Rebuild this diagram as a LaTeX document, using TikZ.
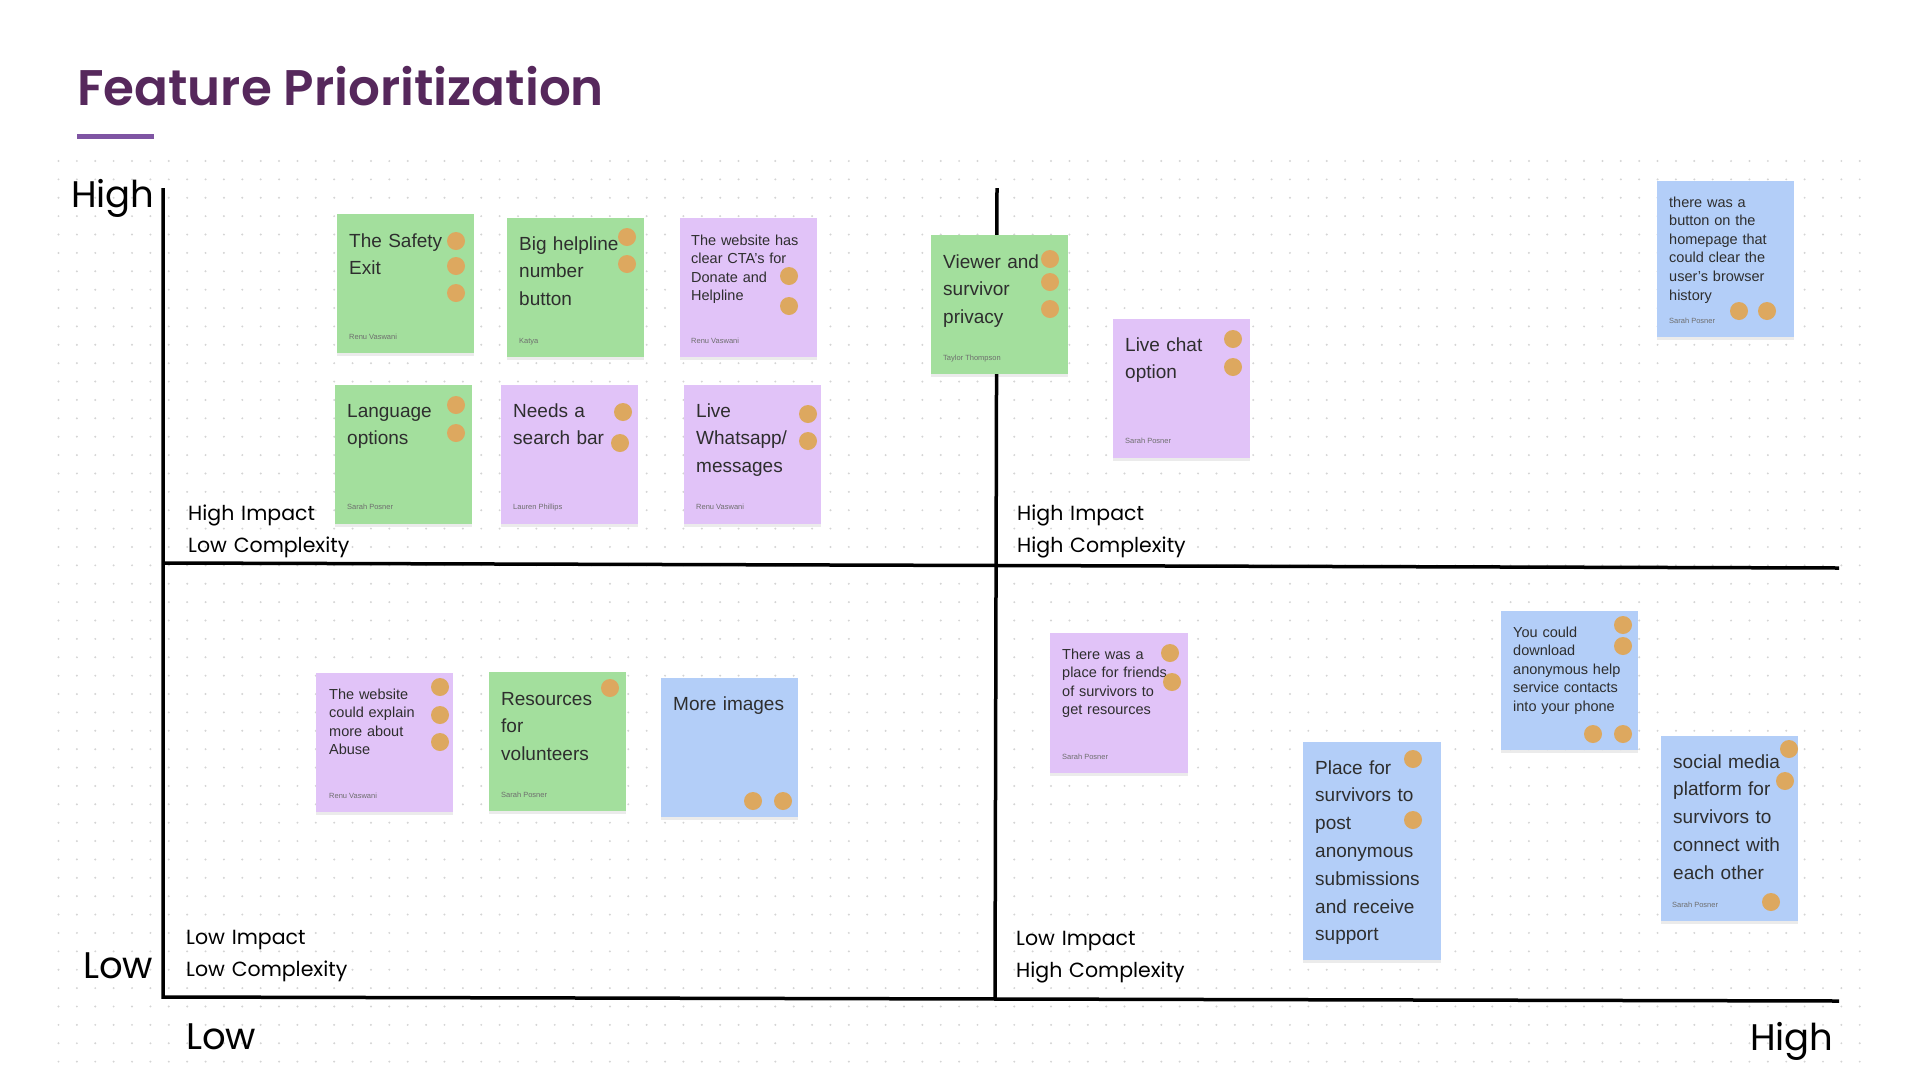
\documentclass[tikz,border=0pt]{standalone}
\usepackage{fontspec}
\setmainfont{Poppins}
\newfontfamily\notefont{Liberation Sans}
\newfontfamily\titlefont{Poppins SemiBold}
\usetikzlibrary{shadows}

\definecolor{titlepurple}{HTML}{56285C}
\definecolor{barpurple}{HTML}{7F55A3}
\definecolor{notegreen}{HTML}{A3DF9D}
\definecolor{notepurple}{HTML}{E1C3F8}
\definecolor{noteblue}{HTML}{B3CEF8}
\definecolor{votedot}{HTML}{DDA85F}
\definecolor{griddot}{HTML}{D4D4D4}
\definecolor{notetext}{HTML}{2E2E2E}
\definecolor{whogray}{HTML}{6E6E6E}

\begin{document}
\begin{tikzpicture}[x=1pt, y=-1pt,
    note/.style={anchor=north west, inner sep=0, minimum width=137pt, minimum height=139pt,
      drop shadow={shadow xshift=0pt, shadow yshift=-3pt, opacity=.08, fill=black}},
    bigtxt/.style={anchor=base west, inner sep=0, text width=150pt, align=left, text=notetext,
      font=\notefont\fontsize{19}{27.8}\selectfont},
    smalltxt/.style={bigtxt, font=\notefont\fontsize{14.5}{18.6}\selectfont},
    who/.style={anchor=base west, inner sep=0, text=whogray, font=\notefont\fontsize{7.5}{9}\selectfont},
    vote/.style={fill=votedot},
    quad/.style={anchor=base west, inner sep=0, text width=260pt, align=left,
      font=\fontsize{20.5}{32}\selectfont},
    axislbl/.style={anchor=base west, inner sep=0, font=\fontsize{37}{40}\selectfont},
    axis/.style={line width=3.5pt, line join=miter}]
  \useasboundingbox (0,0) rectangle (1920,1080);
  \fill[white] (0,0) rectangle (1920,1080);

  % dot grid
  \foreach \i in {0,...,98}
    \foreach \j in {0,...,49}
      \fill[griddot] (58.5+18.38*\i,161+18.38*\j) circle (1.1);

  % title
  \node[anchor=base west, inner sep=0, text=titlepurple, font=\titlefont\fontsize{50}{55}\selectfont]
    (title) at (77,105) {Feature Prioritization};
  \fill[barpurple] (77,134) rectangle (154,139);

  % axes
  \draw[axis] (163,188) -- (163,997) -- (1839,1001);
  \draw[axis] (997,188) -- (995,998);
  \draw[axis] (163,563) -- (1839,568);

  \node[axislbl] (yhigh) at (71,207.5) {High};
  \node[axislbl] (ylow) at (83,978) {Low};
  \node[axislbl] (xlow) at (186,1049) {Low};
  \node[axislbl] (xhigh) at (1750,1050) {High};

  \node[quad] (hilc) at (188,520) {High Impact\\Low Complexity};
  \node[quad] (hihc) at (1017,520) {High Impact\\High Complexity};
  \node[quad] (lilc) at (186,944) {Low Impact\\Low Complexity};
  \node[quad] (lihc) at (1016,945) {Low Impact\\High Complexity};

  % high impact, low complexity
  \node[note, fill=notegreen] (safety) at (337,214) {};
  \node[bigtxt] (safetytxt) at (349,247) {The Safety\\Exit};
  \node[who] (safetywho) at (349,339) {Renu Vaswani};
  \foreach \p in {(456,241),(456,266),(456,293)} \fill[vote] \p circle (9);

  \node[note, fill=notegreen] (helpline) at (507,218) {};
  \node[bigtxt] (helplinetxt) at (519,250) {Big helpline\\number\\button};
  \node[who] (helplinewho) at (519,343) {Katya};
  \foreach \p in {(627,237),(627,264)} \fill[vote] \p circle (9);

  \node[note, fill=notepurple] (cta) at (680,218) {};
  \node[smalltxt] (ctatxt) at (691,245) {The website has\\clear CTA’s for\\Donate and\\Helpline};
  \node[who] (ctawho) at (691,343) {Renu Vaswani};
  \foreach \p in {(789,276),(789,306)} \fill[vote] \p circle (9);

  \node[note, fill=notegreen] (language) at (335,385) {};
  \node[bigtxt] (languagetxt) at (347,417) {Language\\options};
  \node[who] (languagewho) at (347,509) {Sarah Posner};
  \foreach \p in {(456,405),(456,433)} \fill[vote] \p circle (9);

  \node[note, fill=notepurple] (search) at (501,385) {};
  \node[bigtxt] (searchtxt) at (513,417) {Needs a\\search bar};
  \node[who] (searchwho) at (513,509) {Lauren Phillips};
  \foreach \p in {(623,412),(620,443)} \fill[vote] \p circle (9);

  \node[note, fill=notepurple] (whatsapp) at (684,385) {};
  \node[bigtxt] (whatsapptxt) at (696,417) {Live\\Whatsapp/\\messages};
  \node[who] (whatsappwho) at (696,509) {Renu Vaswani};
  \foreach \p in {(808,414),(808,441)} \fill[vote] \p circle (9);

  % high impact, high complexity
  \node[note, fill=notegreen] (privacy) at (931,235) {};
  \node[bigtxt] (privacytxt) at (943,268) {Viewer and\\survivor\\privacy};
  \node[who] (privacywho) at (943,360) {Taylor Thompson};
  \foreach \p in {(1050,259),(1050,282),(1050,309)} \fill[vote] \p circle (9);

  \node[note, fill=notepurple] (livechat) at (1113,319) {};
  \node[bigtxt] (livechattxt) at (1125,351) {Live chat\\option};
  \node[who] (livechatwho) at (1125,443) {Sarah Posner};
  \foreach \p in {(1233,339),(1233,367)} \fill[vote] \p circle (9);

  \node[note, fill=noteblue, minimum height=156pt] (history) at (1657,181) {};
  \node[smalltxt] (historytxt) at (1669,207)
    {there was a\\button on the\\homepage that\\could clear the\\user’s browser\\history};
  \node[who] (historywho) at (1669,323) {Sarah Posner};
  \foreach \p in {(1739,311),(1767,311)} \fill[vote] \p circle (9);

  % low impact, low complexity
  \node[note, fill=notepurple] (abuse) at (316,673) {};
  \node[smalltxt] (abusetxt) at (329,699) {The website\\could explain\\more about\\Abuse};
  \node[who] (abusewho) at (329,798) {Renu Vaswani};
  \foreach \p in {(440,687),(440,715),(440,742)} \fill[vote] \p circle (9);

  \node[note, fill=notegreen] (volunteers) at (489,672) {};
  \node[bigtxt] (volunteerstxt) at (501,705) {Resources\\for\\volunteers};
  \node[who] (volunteerswho) at (501,797) {Sarah Posner};
  \fill[vote] (610,688) circle (9);

  \node[note, fill=noteblue] (images) at (661,678) {};
  \node[bigtxt] (imagestxt) at (673,710) {More images};
  \foreach \p in {(753,801),(783,801)} \fill[vote] \p circle (9);

  % low impact, high complexity
  \node[note, fill=notepurple, minimum width=138pt, minimum height=140pt] (friends) at (1050,633) {};
  \node[smalltxt] (friendstxt) at (1062,659) {There was a\\place for friends\\of survivors to\\get resources};
  \node[who] (friendswho) at (1062,759) {Sarah Posner};
  \foreach \p in {(1170,653),(1172,682)} \fill[vote] \p circle (9);

  \node[note, fill=noteblue, minimum width=138pt, minimum height=218pt] (survivors) at (1303,742) {};
  \node[bigtxt] (survivorstxt) at (1315,774)
    {Place for\\survivors to\\post\\anonymous\\submissions\\and receive\\support};
  \foreach \p in {(1413,759),(1413,820)} \fill[vote] \p circle (9);

  \node[note, fill=noteblue] (download) at (1501,611) {};
  \node[smalltxt] (downloadtxt) at (1513,637)
    {You could\\download\\anonymous help\\service contacts\\into your phone};
  \foreach \p in {(1623,625),(1623,646),(1593,734),(1623,734)} \fill[vote] \p circle (9);

  \node[note, fill=noteblue, minimum height=185pt] (social) at (1661,736) {};
  \node[bigtxt] (socialtxt) at (1673,768)
    {social media\\platform for\\survivors to\\connect with\\each other};
  \node[who] (socialwho) at (1672,907) {Sarah Posner};
  \foreach \p in {(1789,749),(1785,781),(1771,902)} \fill[vote] \p circle (9);
\end{tikzpicture}
\end{document}
